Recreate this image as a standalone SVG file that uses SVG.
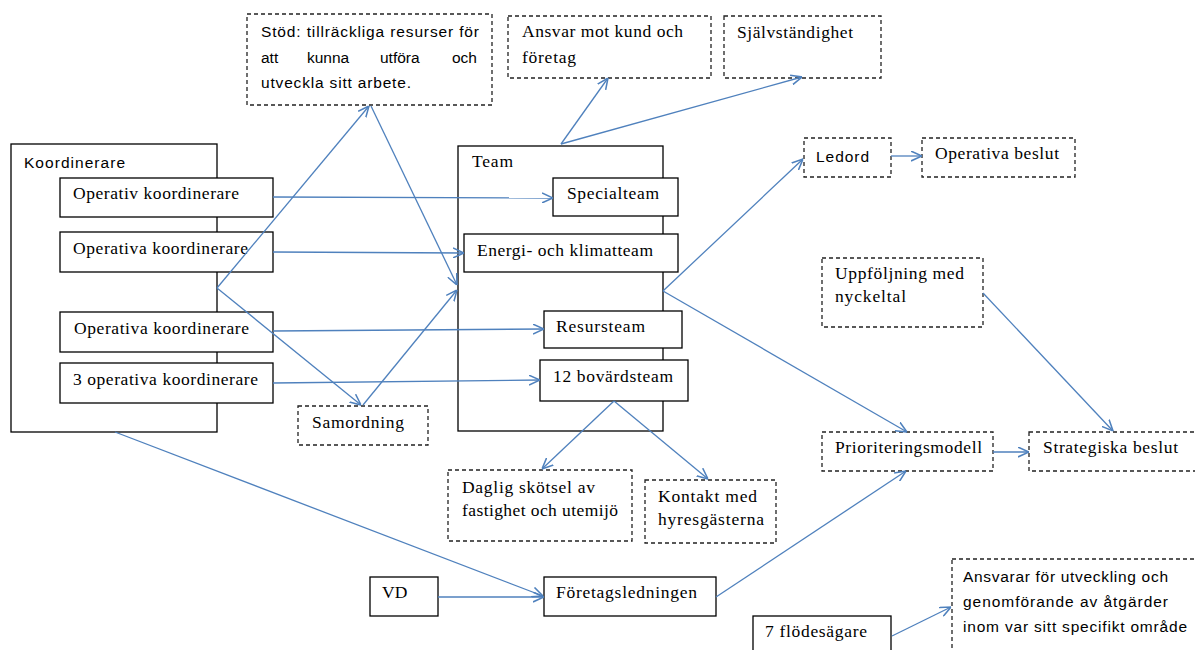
<svg xmlns="http://www.w3.org/2000/svg" width="1195" height="650" viewBox="0 0 1195 650">
<style>
.box{fill:#fff;stroke:#000;stroke-width:1.3}
.dbox{fill:#fff;stroke:#222;stroke-width:1.3;stroke-dasharray:4 3}
.outer{fill:#fff;stroke:#000;stroke-width:1.3}
.serif{font-family:"Liberation Serif","Times New Roman",serif;font-size:17.5px;fill:#000}
.sans{font-family:"Liberation Sans",Arial,sans-serif;font-size:15.5px;fill:#000}
.conn{fill:none;stroke:#4F81BD;stroke-width:1.3}
</style>
<defs>
<marker id="ah" viewBox="0 0 10 10" refX="10" refY="5" markerWidth="11" markerHeight="11" markerUnits="userSpaceOnUse" orient="auto">
<path d="M0,0.5 L10,5 L0,9.5" fill="none" stroke="#4F81BD" stroke-width="1.4"/>
</marker>
</defs>
<rect width="1195" height="650" fill="#fff"/>

<g id="koordinerare">
<rect class="outer" x="11" y="144" width="206" height="288"/>
<text class="sans" x="24" y="168" textLength="101" lengthAdjust="spacing">Koordinerare</text>
</g>
<g id="op-koord-1">
<rect class="box" x="60" y="178" width="213" height="39"/>
<text class="serif" x="73" y="199" textLength="166" lengthAdjust="spacing">Operativ koordinerare</text>
</g>
<g id="op-koord-2">
<rect class="box" x="60" y="232" width="213" height="40"/>
<text class="serif" x="73" y="254" textLength="175" lengthAdjust="spacing">Operativa koordinerare</text>
</g>
<g id="op-koord-3">
<rect class="box" x="60" y="312" width="213" height="40"/>
<text class="serif" x="74" y="334" textLength="175" lengthAdjust="spacing">Operativa koordinerare</text>
</g>
<g id="op-koord-4">
<rect class="box" x="60" y="363" width="213" height="40"/>
<text class="serif" x="73" y="385" textLength="185" lengthAdjust="spacing">3 operativa koordinerare</text>
</g>

<g id="stod">
<rect class="dbox" x="247" y="14" width="245" height="91"/>
<text class="sans" x="261" y="37" textLength="218" lengthAdjust="spacing">Stöd: tillräckliga resurser för</text>
<text class="sans" y="63"><tspan x="261">att</tspan><tspan x="307">kunna</tspan><tspan x="380">utföra</tspan><tspan x="452">och</tspan></text>
<text class="sans" x="261" y="88" textLength="150" lengthAdjust="spacing">utveckla sitt arbete.</text>
</g>

<g id="ansvar">
<rect class="dbox" x="508" y="16" width="203" height="62"/>
<text class="serif" x="522" y="37" textLength="161" lengthAdjust="spacing">Ansvar mot kund och</text>
<text class="serif" x="522" y="63" textLength="54" lengthAdjust="spacing">företag</text>
</g>

<g id="sjalvstandighet">
<rect class="dbox" x="724" y="16" width="157" height="62"/>
<text class="serif" x="737" y="38" textLength="116" lengthAdjust="spacing">Självständighet</text>
</g>

<g id="ledord">
<rect class="dbox" x="804" y="138" width="87" height="39"/>
<text class="sans" x="816" y="162" textLength="53" lengthAdjust="spacing">Ledord</text>
</g>

<g id="operativa-beslut">
<rect class="dbox" x="922" y="138" width="153" height="39"/>
<text class="serif" x="935" y="159" textLength="124" lengthAdjust="spacing">Operativa beslut</text>
</g>

<g id="team">
<rect class="outer" x="458" y="146" width="205" height="285"/>
<text class="serif" x="472" y="167" textLength="41" lengthAdjust="spacing">Team</text>
</g>
<g id="specialteam">
<rect class="box" x="553" y="178" width="125" height="38"/>
<text class="serif" x="567" y="199" textLength="92" lengthAdjust="spacing">Specialteam</text>
</g>
<g id="energi">
<rect class="box" x="464" y="234" width="214" height="38"/>
<text class="serif" x="477" y="256" textLength="176" lengthAdjust="spacing">Energi- och klimatteam</text>
</g>
<g id="resursteam">
<rect class="box" x="544" y="311" width="138" height="37"/>
<text class="serif" x="556" y="332" textLength="89" lengthAdjust="spacing">Resursteam</text>
</g>
<g id="bovardsteam">
<rect class="box" x="540" y="360" width="148" height="41"/>
<text class="serif" x="553" y="382" textLength="120" lengthAdjust="spacing">12 bovärdsteam</text>
</g>

<g id="samordning">
<rect class="dbox" x="298" y="406" width="130" height="39"/>
<text class="serif" x="312" y="428" textLength="92" lengthAdjust="spacing">Samordning</text>
</g>

<g id="daglig">
<rect class="dbox" x="448" y="470" width="184" height="71"/>
<text class="serif" x="462" y="493" textLength="133" lengthAdjust="spacing">Daglig skötsel av</text>
<text class="serif" x="462" y="516" textLength="156" lengthAdjust="spacing">fastighet och utemijö</text>
</g>

<g id="kontakt">
<rect class="dbox" x="645" y="480" width="131" height="63"/>
<text class="serif" x="658" y="502" textLength="99" lengthAdjust="spacing">Kontakt med</text>
<text class="serif" x="658" y="525" textLength="106" lengthAdjust="spacing">hyresgästerna</text>
</g>

<g id="vd">
<rect class="box" x="370" y="577" width="68" height="39"/>
<text class="serif" x="382" y="598">VD</text>
</g>

<g id="foretagsledningen">
<rect class="box" x="544" y="577" width="172" height="39"/>
<text class="serif" x="556" y="598" textLength="141" lengthAdjust="spacing">Företagsledningen</text>
</g>

<g id="flodesagare">
<rect class="box" x="753" y="616" width="138" height="50"/>
<text class="serif" x="765" y="637" textLength="102" lengthAdjust="spacing">7 flödesägare</text>
</g>

<g id="ansvarar">
<rect class="dbox" x="952" y="559" width="260" height="110"/>
<text class="sans" x="963" y="582" textLength="205" lengthAdjust="spacing">Ansvarar för utveckling och</text>
<text class="sans" x="963" y="607" textLength="205" lengthAdjust="spacing">genomförande av åtgärder</text>
<text class="sans" x="963" y="632" textLength="224" lengthAdjust="spacing">inom var sitt specifikt område</text>
</g>

<g id="uppfoljning">
<rect class="dbox" x="822" y="258" width="161" height="69"/>
<text class="serif" x="835" y="279" textLength="129" lengthAdjust="spacing">Uppföljning med</text>
<text class="serif" x="835" y="302" textLength="71" lengthAdjust="spacing">nyckeltal</text>
</g>

<g id="prioriteringsmodell">
<rect class="dbox" x="822" y="432" width="171" height="39"/>
<text class="serif" x="835" y="453" textLength="147" lengthAdjust="spacing">Prioriteringsmodell</text>
</g>

<g id="strategiska">
<rect class="dbox" x="1029" y="432" width="180" height="39"/>
<text class="serif" x="1043" y="453" textLength="135" lengthAdjust="spacing">Strategiska beslut</text>
</g>

<g id="connectors">
<line class="conn" x1="273" y1="197" x2="553" y2="198" marker-end="url(#ah)"/>
<line class="conn" x1="273" y1="252" x2="464" y2="253" marker-end="url(#ah)"/>
<line class="conn" x1="273" y1="331" x2="544" y2="329" marker-end="url(#ah)"/>
<line class="conn" x1="273" y1="383" x2="540" y2="380" marker-end="url(#ah)"/>
<line class="conn" x1="217" y1="288" x2="369" y2="106" marker-end="url(#ah)"/>
<line class="conn" x1="217" y1="288" x2="361" y2="405" marker-end="url(#ah)"/>
<line class="conn" x1="371" y1="106" x2="457" y2="285" marker-end="url(#ah)"/>
<line class="conn" x1="363" y1="405" x2="457" y2="290" marker-end="url(#ah)"/>
<line class="conn" x1="561" y1="144" x2="608" y2="78" marker-end="url(#ah)"/>
<line class="conn" x1="561" y1="144" x2="802" y2="77" marker-end="url(#ah)"/>
<line class="conn" x1="663" y1="291" x2="803" y2="159" marker-end="url(#ah)"/>
<line class="conn" x1="663" y1="291" x2="907" y2="432" marker-end="url(#ah)"/>
<line class="conn" x1="891" y1="156" x2="922" y2="156" marker-end="url(#ah)"/>
<line class="conn" x1="614" y1="401" x2="542" y2="469" marker-end="url(#ah)"/>
<line class="conn" x1="614" y1="401" x2="708" y2="479" marker-end="url(#ah)"/>
<line class="conn" x1="115" y1="432" x2="543" y2="596" marker-end="url(#ah)"/>
<line class="conn" x1="438" y1="597" x2="544" y2="597" marker-end="url(#ah)"/>
<line class="conn" x1="716" y1="597" x2="906" y2="471" marker-end="url(#ah)"/>
<line class="conn" x1="983" y1="293" x2="1113" y2="431" marker-end="url(#ah)"/>
<line class="conn" x1="993" y1="452" x2="1029" y2="452" marker-end="url(#ah)"/>
<line class="conn" x1="892" y1="636" x2="951" y2="607" marker-end="url(#ah)"/>
</g>
</svg>
